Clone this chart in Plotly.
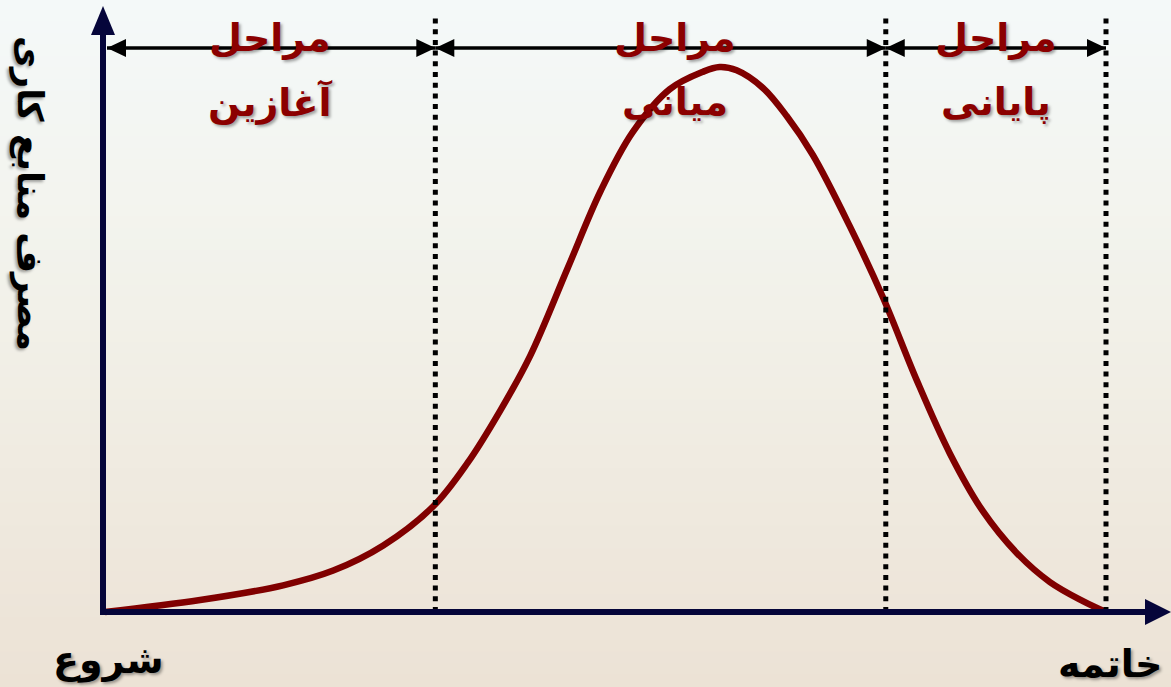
import plotly.graph_objects as go

# ---------------- data ----------------
time_pct = [0, 9.5, 17.8, 22.8, 27.8, 32.8, 36.2, 39.5, 42.5, 46.2, 49.5, 52.7, 56.4, 59.7,
            61.4, 63.1, 65.7, 68.1, 70.7, 74.4, 77.7, 81.1, 84.4, 87.7, 91.1, 94.4, 97.7, 100]
effort_pct = [0, 2.2, 4.9, 7.6, 12.2, 19.4, 27.3, 37.0, 47.1, 63.0, 77.2, 88.0, 95.9, 99.1,
              100, 99.4, 96.2, 91.0, 83.9, 70.8, 57.8, 42.5, 29.1, 18.5, 10.8, 5.5, 2.0, 0]
phase_bounds = [0, 33, 78, 100]
phase_titles = ["مراحل", "مراحل", "مراحل"]
phase_names = ["آغازین", "میانی", "پایانی"]
y_label = "مصرف منابع کاری"
start_label = "شروع"
end_label = "خاتمه"

# ---------------- layout geometry ----------------
W, H = 1171, 687
X0_PX, X100_PX = 105, 1106
Y0_PX, Y100_PX = 612, 67
sx = (X100_PX - X0_PX) / 100.0
sy = (Y0_PX - Y100_PX) / 100.0


def px2x(px):
    return (px - X0_PX) / sx


def py2y(py):
    return (Y0_PX - py) / sy


AXIS_COL = "#05053a"
CURVE_COL = "#800000"
TXT_RED = "#8b0000"
FONT = "DejaVu Sans"

fig = go.Figure()

fig.add_trace(go.Scatter(
    x=time_pct, y=effort_pct, mode="lines",
    line=dict(color=CURVE_COL, width=6.5, shape="spline", smoothing=1.0),
    hoverinfo="skip", showlegend=False,
))

shapes = []

# background gradient bands
top = (244, 249, 249)
mid = (242, 241, 233)
bot = (236, 226, 213)
N = 60
for i in range(N):
    t = (i + 0.5) / N  # 0 at top
    if t < 0.45:
        f = t / 0.45
        c = tuple(round(top[k] + (mid[k] - top[k]) * f) for k in range(3))
    else:
        f = (t - 0.45) / 0.55
        c = tuple(round(mid[k] + (bot[k] - mid[k]) * f) for k in range(3))
    shapes.append(dict(type="rect", xref="paper", yref="paper", x0=0, x1=1,
                       y0=1 - (i + 1) / N - 0.002, y1=1 - i / N + 0.002,
                       fillcolor="rgb(%d,%d,%d)" % c, line=dict(width=0), layer="below"))

# dotted phase boundaries
for b in phase_bounds[1:]:
    shapes.append(dict(type="line", x0=b, x1=b, y0=0, y1=py2y(18),
                       line=dict(color="black", width=5, dash="5px,5.7px"), layer="above"))

# axes
ax_x = px2x(103)
shapes.append(dict(type="line", x0=ax_x, x1=ax_x, y0=py2y(615), y1=py2y(30),
                   line=dict(color=AXIS_COL, width=6)))
shapes.append(dict(type="path",
                   path="M %f,%f L %f,%f L %f,%f Z" % (px2x(91), py2y(35), ax_x, py2y(6), px2x(115), py2y(35)),
                   fillcolor=AXIS_COL, line=dict(width=0)))
shapes.append(dict(type="line", x0=px2x(100), x1=px2x(1150), y0=0, y1=0,
                   line=dict(color=AXIS_COL, width=6)))
shapes.append(dict(type="path",
                   path="M %f,%f L %f,%f L %f,%f Z" % (px2x(1145), py2y(599), px2x(1171), 0, px2x(1145), py2y(625)),
                   fillcolor=AXIS_COL, line=dict(width=0)))

# double-headed arrows between phase boundaries
AY = py2y(48)
ah_len, ah_half = 19, 9
for i in range(3):
    a = phase_bounds[i]
    b = phase_bounds[i + 1]
    a_px = X0_PX + a * sx + (2 if i == 0 else 0)
    b_px = X0_PX + b * sx
    shapes.append(dict(type="line", x0=px2x(a_px), x1=px2x(b_px), y0=AY, y1=AY,
                       line=dict(color="black", width=3.5)))
    shapes.append(dict(type="path",
                       path="M %f,%f L %f,%f L %f,%f Z" % (px2x(a_px), AY, px2x(a_px + ah_len), py2y(48 - ah_half),
                                                         px2x(a_px + ah_len), py2y(48 + ah_half)),
                       fillcolor="black", line=dict(width=0)))
    shapes.append(dict(type="path",
                       path="M %f,%f L %f,%f L %f,%f Z" % (px2x(b_px), AY, px2x(b_px - ah_len), py2y(48 - ah_half),
                                                         px2x(b_px - ah_len), py2y(48 + ah_half)),
                       fillcolor="black", line=dict(width=0)))

annotations = []
shadow = "2px 2px 3px rgba(0,0,0,0.35)"
for i in range(3):
    cx = (phase_bounds[i] + phase_bounds[i + 1]) / 2
    xs = 14 if i == 1 else 0
    annotations.append(dict(x=cx, y=py2y(38), text="<b>%s</b>" % phase_titles[i], showarrow=False,
                            xshift=xs, font=dict(family=FONT, size=38, color=TXT_RED, shadow=shadow)))
    annotations.append(dict(x=cx, y=py2y(102), text="<b>%s</b>" % phase_names[i], showarrow=False,
                            xshift=xs, font=dict(family=FONT, size=38, color=TXT_RED, shadow=shadow)))

annotations.append(dict(x=px2x(30), y=py2y(193), text="<b>%s</b>" % y_label, showarrow=False, textangle=90,
                        font=dict(family=FONT, size=35, color="black", shadow=shadow)))
annotations.append(dict(x=px2x(108), y=py2y(660), text="<b>%s</b>" % start_label, showarrow=False,
                        font=dict(family=FONT, size=38, color="black", shadow=shadow)))
annotations.append(dict(x=px2x(1110), y=py2y(664), text="<b>%s</b>" % end_label, showarrow=False,
                        font=dict(family=FONT, size=38, color="black", shadow=shadow)))

fig.update_layout(
    width=W, height=H,
    margin=dict(l=0, r=0, t=0, b=0),
    paper_bgcolor="rgb(240,236,228)",
    plot_bgcolor="rgba(0,0,0,0)",
    xaxis=dict(range=[px2x(0), px2x(W)], visible=False, fixedrange=True),
    yaxis=dict(range=[py2y(H), py2y(0)], visible=False, fixedrange=True),
    shapes=shapes,
    annotations=annotations,
    showlegend=False,
)

fig.write_html("out.html", config={"displayModeBar": False},
               post_script="document.body.style.margin='0';document.body.style.overflow='hidden';")
